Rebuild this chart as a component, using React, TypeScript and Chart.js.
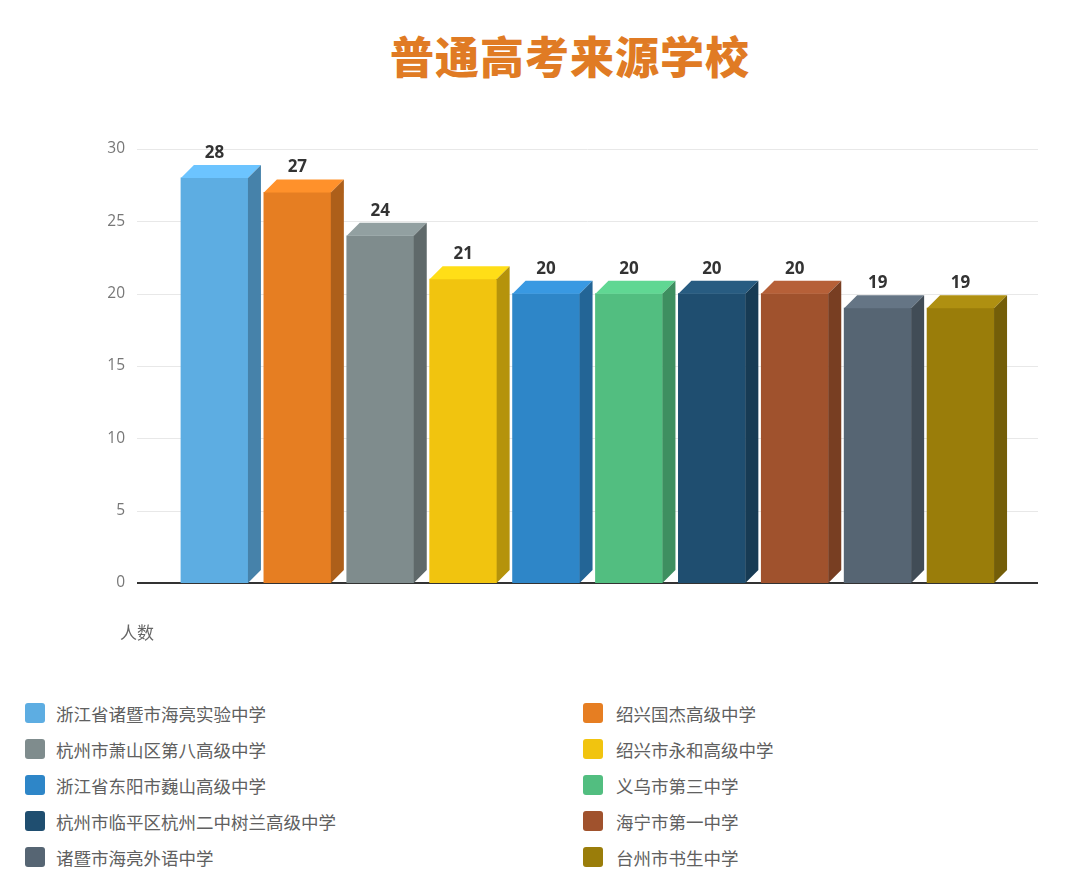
import { useEffect, useRef } from 'react';
import { Chart, ChartConfiguration, registerables } from 'chart.js';

Chart.register(...registerables);

const schools = [
  '浙江省诸暨市海亮实验中学',
  '绍兴国杰高级中学',
  '杭州市萧山区第八高级中学',
  '绍兴市永和高级中学',
  '浙江省东阳市巍山高级中学',
  '义乌市第三中学',
  '杭州市临平区杭州二中树兰高级中学',
  '海宁市第一中学',
  '诸暨市海亮外语中学',
  '台州市书生中学',
];
const students = [28, 27, 24, 21, 20, 20, 20, 20, 19, 19];
const barColors = [
  '#5DADE2', '#E67E22', '#7F8C8D', '#F1C40F', '#2E86C8',
  '#52BE80', '#1F4E70', '#A0522D', '#566573', '#9A7D0A',
];
const yTicks = [0, 5, 10, 15, 20, 25, 30];

const DEPTH = 13;
const CJK = '"Noto Sans CJK SC", "Noto Sans", sans-serif';

// brighten (amt > 0) or darken (amt < 0) a hex colour
function shade(hex: string, amt: number) {
  const n = parseInt(hex.slice(1), 16);
  const ch = [(n >> 16) & 255, (n >> 8) & 255, n & 255].map(c =>
    Math.min(255, Math.round(amt >= 0 ? c * (1 + amt) + 6 : c * (1 + amt)))
  );
  return `rgb(${ch[0]}, ${ch[1]}, ${ch[2]})`;
}

const box3d = {
  id: 'box3d',
  beforeDatasetsDraw(chart: Chart) {
    const { ctx, chartArea } = chart;
    const y = chart.scales.y;
    const left = chartArea.left - 36;
    const right = chartArea.right + 36;
    ctx.save();
    ctx.strokeStyle = '#e8e8e8';
    ctx.lineWidth = 1;
    yTicks.forEach(v => {
      if (v === 0) return;
      const py = Math.round(y.getPixelForValue(v)) + 0.5;
      ctx.beginPath();
      ctx.moveTo(left, py);
      ctx.lineTo(right, py);
      ctx.stroke();
    });
    const p0 = y.getPixelForValue(0);
    ctx.strokeStyle = '#333';
    ctx.lineWidth = 2;
    ctx.beginPath();
    ctx.moveTo(left, p0);
    ctx.lineTo(right, p0);
    ctx.stroke();
    ctx.restore();
  },
  afterDatasetsDraw(chart: Chart) {
    const { ctx } = chart;
    const meta = chart.getDatasetMeta(0);
    ctx.save();
    meta.data.forEach((bar: any, i: number) => {
      const { x, y: top, base, width } = bar.getProps(['x', 'y', 'base', 'width'], true);
      const x0 = x - width / 2;
      const x1 = x + width / 2;
      const c = barColors[i];

      // top face
      ctx.fillStyle = shade(c, 0.1);
      ctx.beginPath();
      ctx.moveTo(x0, top);
      ctx.lineTo(x1, top);
      ctx.lineTo(x1 + DEPTH, top - DEPTH);
      ctx.lineTo(x0 + DEPTH, top - DEPTH);
      ctx.closePath();
      ctx.fill();

      // side face
      ctx.fillStyle = shade(c, -0.25);
      ctx.beginPath();
      ctx.moveTo(x1, top);
      ctx.lineTo(x1 + DEPTH, top - DEPTH);
      ctx.lineTo(x1 + DEPTH, base - DEPTH);
      ctx.lineTo(x1, base);
      ctx.closePath();
      ctx.fill();

      // value label
      ctx.fillStyle = '#333';
      ctx.font = 'bold 17px "Open Sans", sans-serif';
      ctx.textAlign = 'center';
      ctx.textBaseline = 'alphabetic';
      ctx.fillText(String(students[i]), x, top - DEPTH - 7);
    });
    ctx.restore();
  },
};

const App = () => {
  const canvasRef = useRef<HTMLCanvasElement>(null);
  const chartRef = useRef<Chart | null>(null);

  useEffect(() => {
    if (!canvasRef.current) return;
    if (chartRef.current) chartRef.current.destroy();

    const config: ChartConfiguration = {
      type: 'bar',
      data: {
        labels: schools,
        datasets: [
          {
            label: '人数',
            data: students,
            backgroundColor: barColors,
            barThickness: 67,
            borderWidth: 0,
          },
        ],
      },
      options: {
        animation: false,
        responsive: true,
        maintainAspectRatio: false,
        layout: { padding: { top: 149, right: 78, bottom: 77, left: 0 } },
        plugins: {
          legend: { display: false },
          title: { display: false },
          tooltip: { enabled: false },
        },
        scales: {
          x: { display: false },
          y: {
            min: 0,
            max: 30,
            grid: { display: false, drawTicks: false },
            border: { display: false },
            ticks: {
              stepSize: 5,
              padding: 48,
              color: '#777',
              font: { size: 15.5, family: '"Open Sans", sans-serif' },
            },
            afterFit: (scale: any) => {
              scale.width = 173;
            },
          },
        },
      },
      plugins: [box3d],
    };

    chartRef.current = new Chart(canvasRef.current, config);

    return () => {
      if (chartRef.current) {
        chartRef.current.destroy();
        chartRef.current = null;
      }
    };
  }, []);

  return (
    <div style={{ position: 'absolute', left: 0, top: 0, width: 1080, height: 883, background: '#fff', fontFamily: CJK }}>
      <div
        style={{
          position: 'absolute', left: 390, top: 31, fontSize: 44, lineHeight: '48px',
          fontWeight: 900, color: '#E07B24', whiteSpace: 'nowrap', letterSpacing: 1,
        }}
      >
        普通高考来源学校
      </div>
      <div style={{ position: 'absolute', left: 0, top: 0, width: 1080, height: 660 }}>
        <canvas ref={canvasRef}></canvas>
      </div>
      <div style={{ position: 'absolute', left: 120, top: 620, fontSize: 17, lineHeight: '24px', color: '#666' }}>
        人数
      </div>

      {/* legend, two columns */}
      {schools.map((name, i) => {
        const col = i % 2;
        const row = Math.floor(i / 2);
        const cy = 713 + row * 36;
        return (
          <div
            key={name}
            style={{
              position: 'absolute', left: col === 0 ? 25 : 583, top: cy - 12, height: 24,
              display: 'flex', alignItems: 'center', whiteSpace: 'nowrap',
            }}
          >
            <div style={{ width: 20, height: 20, borderRadius: 3, background: barColors[i] }}></div>
            <span style={{ marginLeft: col === 0 ? 11 : 13, fontSize: 17.5, color: '#606060' }}>{name}</span>
          </div>
        );
      })}
    </div>
  );
};

export default App;
